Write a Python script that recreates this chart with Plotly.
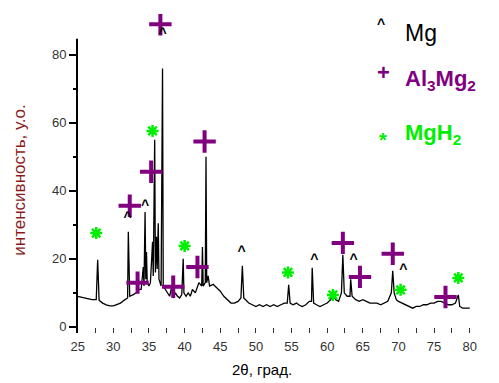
import plotly.graph_objects as go

# XRD pattern (2θ, intensity)
two_theta = [25.0, 25.5, 26.0, 26.5, 27.0, 27.6, 27.8, 28.0, 28.5, 29.0, 29.5, 30.0, 30.5, 31.0, 31.5,
             32.0, 32.1, 32.3, 32.8, 33.2, 33.6, 33.9, 34.2, 34.3, 34.45, 34.55, 34.65, 34.75, 35.0,
             35.2, 35.5, 35.6, 35.8, 35.9, 36.05, 36.15, 36.3, 36.4, 36.7, 36.9, 37.0, 37.3, 37.6,
             37.9, 38.2, 38.4, 38.7, 39.0, 39.3, 39.6, 39.8, 39.9, 40.2, 40.5, 40.8, 41.1, 41.5,
             42.0, 42.4, 42.5, 42.6, 42.9, 43.0, 43.1, 43.3, 43.5, 44.0, 44.5, 45.0, 45.5, 46.0,
             46.5, 47.0, 47.5, 47.9, 48.1, 48.3, 48.5, 49.0, 49.5, 50.0, 50.5, 51.0, 51.5, 52.0,
             52.5, 53.0, 53.5, 54.0, 54.4, 54.6, 54.8, 55.2, 55.7, 56.0, 56.5, 57.0, 57.5, 57.8,
             57.9, 58.1, 58.5, 59.0, 59.5, 60.0, 60.5, 60.8, 61.2, 61.6, 62.0, 62.2, 62.4, 62.8,
             63.2, 63.3, 63.5, 64.0, 64.5, 65.0, 65.5, 66.0, 66.5, 67.0, 67.5, 68.0, 68.5, 69.0,
             69.2, 69.4, 69.7, 70.0, 70.5, 71.0, 71.5, 72.0, 72.5, 73.0, 73.5, 74.0, 74.5, 75.0,
             75.5, 76.0, 76.5, 77.0, 77.5, 78.0, 78.4, 78.6, 79.0, 79.5, 80.0]
intensity = [9.0, 8.8, 8.5, 8.2, 8.0, 8.0, 19.7, 7.8, 7.0, 6.5, 6.2, 6.2, 6.5, 7.0, 7.8,
             8.5, 28.0, 9.0, 9.5, 10.0, 11.0, 11.0, 17.6, 12.0, 33.8, 14.0, 22.0, 13.0, 12.0,
             13.0, 25.0, 15.0, 55.0, 16.0, 26.5, 17.0, 30.5, 14.0, 12.0, 76.0, 12.0, 11.0, 10.0,
             9.0, 12.0, 8.5, 10.0, 9.0, 8.5, 9.5, 20.0, 10.0, 9.0, 10.0, 9.0, 11.0, 10.0,
             13.0, 12.0, 23.5, 12.0, 13.0, 50.0, 13.0, 15.0, 12.0, 12.5, 11.5, 10.5, 9.0, 8.0,
             7.0, 7.0, 7.5, 8.5, 18.0, 8.5, 8.0, 7.0, 6.5, 6.0, 6.5, 6.0, 6.5, 6.0,
             6.5, 6.0, 6.5, 7.0, 7.0, 12.4, 7.0, 6.5, 7.0, 6.5, 6.0, 6.5, 7.5, 7.5,
             17.4, 7.0, 6.5, 6.0, 6.5, 7.0, 8.0, 9.5, 8.0, 7.5, 10.0, 21.2, 10.0, 9.0,
             9.0, 14.0, 9.0, 8.0, 7.5, 8.0, 7.5, 7.0, 7.0, 7.0, 6.5, 7.0, 7.5, 10.0,
             16.5, 10.0, 8.0, 7.5, 7.0, 6.5, 6.0, 5.5, 6.0, 6.0, 6.5, 6.5, 7.0, 7.0,
             7.5, 7.5, 7.0, 6.5, 6.5, 7.0, 9.4, 6.0, 5.5, 5.5, 5.5]

# phase markers
mg_x = [32.0, 34.45, 36.9, 48.0, 58.2, 63.7, 70.7]
mg_y = [32.0, 35.5, 86.0, 22.0, 19.4, 19.4, 16.5]
al3mg2_x = [32.3, 33.4, 35.3, 36.6, 38.4, 41.8, 42.8, 62.2, 64.6, 69.2, 76.6]
al3mg2_y = [35.6, 13.0, 45.6, 89.0, 11.8, 17.6, 54.5, 24.7, 14.7, 21.5, 8.8]
mgh2_x = [27.6, 35.5, 40.0, 54.5, 60.8, 70.3, 78.4]
mgh2_y = [27.6, 57.6, 23.8, 16.0, 9.4, 10.9, 14.4]

x_ticks = [25, 30, 35, 40, 45, 50, 55, 60, 65, 70, 75, 80]
y_ticks = [0, 20, 40, 60, 80]
y_axis_span = [-1.8, 84.7]

PURPLE = "#800080"
GREEN = "#00ee00"

fig = go.Figure()
fig.add_trace(go.Scatter(x=two_theta, y=intensity, mode="lines",
                         line=dict(color="black", width=1.3), showlegend=False))
fig.add_trace(go.Scatter(x=al3mg2_x, y=al3mg2_y, mode="markers",
                         marker=dict(symbol="cross-thin", size=16,
                                     line=dict(color=PURPLE, width=4)),
                         showlegend=False))
fig.add_trace(go.Scatter(x=mgh2_x, y=mgh2_y, mode="markers",
                         marker=dict(symbol="asterisk", size=10,
                                     line=dict(color=GREEN, width=2.5)),
                         showlegend=False))
fig.add_trace(go.Scatter(x=mg_x, y=mg_y, mode="text", text=["^"] * len(mg_x),
                         textfont=dict(family="Liberation Sans", size=14, color="black",
                                       weight="bold"),
                         showlegend=False))

font = "Liberation Sans, Arial, sans-serif"
ann = []
# legend
ann.append(dict(x=0.765, y=0.969, xref="paper", yref="paper", text="<b>^</b>", showarrow=False,
                font=dict(family=font, size=14, color="black"), xanchor="center", yanchor="middle"))
ann.append(dict(x=0.822, y=0.940, xref="paper", yref="paper", text="Mg", showarrow=False,
                font=dict(family=font, size=23, color="black"), xanchor="left", yanchor="middle"))
ann.append(dict(x=0.772, y=0.818, xref="paper", yref="paper", text="<b>+</b>", showarrow=False,
                font=dict(family=font, size=22, color=PURPLE), xanchor="center", yanchor="middle"))
ann.append(dict(x=0.822, y=0.793, xref="paper", yref="paper", text="<b>Al<sub>3</sub>Mg<sub>2</sub></b>",
                showarrow=False, font=dict(family=font, size=22, color=PURPLE),
                xanchor="left", yanchor="middle"))
ann.append(dict(x=0.772, y=0.606, xref="paper", yref="paper", text="<b>*</b>", showarrow=False,
                font=dict(family=font, size=20, color=GREEN), xanchor="center", yanchor="middle"))
ann.append(dict(x=0.822, y=0.624, xref="paper", yref="paper", text="<b>MgH<sub>2</sub></b>",
                showarrow=False, font=dict(family=font, size=22, color=GREEN),
                xanchor="left", yanchor="middle"))
# axis titles
ann.append(dict(x=0.466, y=-0.113, xref="paper", yref="paper", text="2θ, град.", showarrow=False,
                font=dict(family=font, size=15, color="black"), xanchor="center", yanchor="middle"))
ann.append(dict(x=-0.144, y=0.48, xref="paper", yref="paper", text="интенсивность, у.о.",
                showarrow=False, textangle=-90,
                font=dict(family=font, size=17, color="#8b1a1a"), xanchor="center", yanchor="middle"))

fig.update_layout(
    width=499, height=383,
    margin=dict(l=77, r=25, t=14, b=50),
    plot_bgcolor="white", paper_bgcolor="white",
    annotations=ann,
    shapes=[dict(type="line", xref="paper", yref="y", x0=0, x1=0,
                 y0=y_axis_span[0], y1=y_axis_span[1], line=dict(color="black", width=2))],
    font=dict(family=font, size=13, color="#222"),
    xaxis=dict(range=[24.9, 80.6], tickvals=x_ticks, ticktext=[str(v) for v in x_ticks],
               showline=False, showgrid=False, zeroline=False,
               ticks="inside", ticklen=5, tickcolor="#333", ticklabelstandoff=4,
               minor=dict(dtick=2.5, ticks="inside", ticklen=5, tickcolor="#333"),
               tickfont=dict(size=13, color="#333")),
    yaxis=dict(range=[-1.8, 92.0], tickvals=y_ticks, ticktext=[str(v) for v in y_ticks],
               showline=False, showgrid=False, zeroline=False,
               ticks="outside", ticklen=7, tickcolor="black", tickwidth=1.5,
               minor=dict(tickvals=[10, 30, 50, 70], ticks="outside", ticklen=3, tickcolor="black"),
               tickfont=dict(size=13, color="#333")),
)

fig.write_html("out.html")
